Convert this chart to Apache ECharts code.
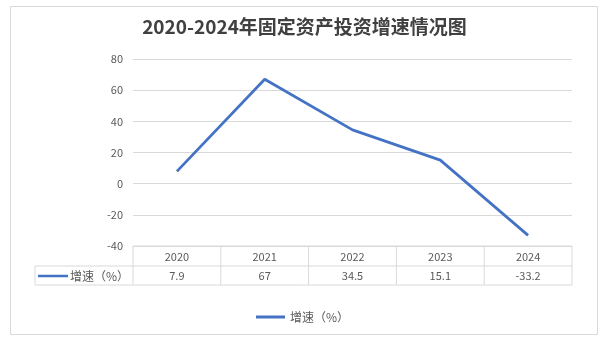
<!DOCTYPE html>
<html><head><meta charset="utf-8">
<script src="https://cdn.jsdelivr.net/npm/echarts@6/dist/echarts.min.js"></script>
<style>html,body{margin:0;padding:0;background:#fff}#c{width:609px;height:347px}</style>
</head><body><div id="c"></div>
<script>
const categories = ['2020', '2021', '2022', '2023', '2024'];
const seriesName = '增速（%）';
const growth = [7.9, 67, 34.5, 15.1, -33.2];
const growthLabels = ['7.9', '67', '34.5', '15.1', '-33.2'];
const yMin = -40, yMax = 80, yInterval = 20;
const titleText = '2020-2024年固定资产投资增速情况图';

const FONT = '"Noto Sans CJK SC", "Noto Sans", sans-serif';
const LINE = '#4472C4';
const GRIDC = '#d9d9d9';
const TXT = '#595959';

const chart = echarts.init(document.getElementById('c'), null, {renderer: 'canvas'});
chart.setOption({
  animation: false,
  backgroundColor: '#fff',
  title: {
    text: titleText, left: 'center', top: 12,
    textStyle: {fontFamily: FONT, fontSize: 19, fontWeight: 'bold', color: '#404040'}
  },
  legend: {
    data: [seriesName], left: 251, top: 306,
    icon: 'rect', itemWidth: 29, itemHeight: 3, itemGap: 4,
    textStyle: {fontFamily: FONT, fontSize: 12, color: TXT}
  },
  grid: {left: 133, right: 37, top: 59, bottom: 101, containLabel: false},
  xAxis: {
    type: 'category', data: categories, boundaryGap: true,
    axisLine: {show: false}, axisTick: {show: false}, axisLabel: {show: false}
  },
  yAxis: {
    type: 'value', min: yMin, max: yMax, interval: yInterval,
    axisLine: {show: false}, axisTick: {show: false},
    axisLabel: {fontFamily: FONT, fontSize: 11, color: TXT, margin: 10},
    splitLine: {lineStyle: {color: GRIDC, width: 1}}
  },
  series: [{
    name: seriesName, type: 'line', data: growth,
    symbol: 'none', lineStyle: {color: LINE, width: 2.75}, itemStyle: {color: LINE}
  }]
});

// Data table built from axis scale
const cx = categories.map(c => chart.convertToPixel({xAxisIndex: 0}, c));
const band = cx[1] - cx[0];
const x0 = cx[0] - band / 2;
const xEnd = cx[cx.length - 1] + band / 2;
const yTop = chart.convertToPixel({yAxisIndex: 0}, yMin);
const rowH = 20;
const yMid = yTop + rowH;
const yBot = yMid + rowH - 1;
const keyLeft = 35;
const g = [];
const ln = (x1, y1, x2, y2) => g.push({type: 'line', shape: {x1, y1, x2, y2}, style: {stroke: GRIDC, lineWidth: 1}, silent: true});
ln(x0, yTop, xEnd, yTop);
ln(keyLeft, yMid, xEnd, yMid);
ln(keyLeft, yBot, xEnd, yBot);
ln(keyLeft, yMid, keyLeft, yBot);
for (let i = 0; i <= categories.length; i++) {
  const x = x0 + band * i;
  ln(x, yTop, x, yBot);
}
categories.forEach((c, i) => {
  g.push({type: 'text', x: cx[i], y: yTop + rowH / 2 + 1, style: {text: c, fill: TXT, font: '11px ' + FONT, align: 'center', verticalAlign: 'middle'}, silent: true});
  g.push({type: 'text', x: cx[i], y: yMid + rowH / 2, style: {text: growthLabels[i], fill: TXT, font: '11px ' + FONT, align: 'center', verticalAlign: 'middle'}, silent: true});
});
g.push({type: 'line', shape: {x1: keyLeft + 3, y1: yMid + rowH / 2, x2: keyLeft + 33, y2: yMid + rowH / 2}, style: {stroke: LINE, lineWidth: 2.5}, silent: true});
g.push({type: 'text', x: keyLeft + 35, y: yMid + rowH / 2, style: {text: seriesName, fill: TXT, font: '12px ' + FONT, align: 'left', verticalAlign: 'middle'}, silent: true});
// outer chart border
g.push({type: 'rect', shape: {x: 10.5, y: 6.5, width: 587, height: 328}, style: {fill: 'none', stroke: GRIDC, lineWidth: 1}, silent: true, z: -1});
chart.setOption({graphic: g});
</script>
</body></html>
